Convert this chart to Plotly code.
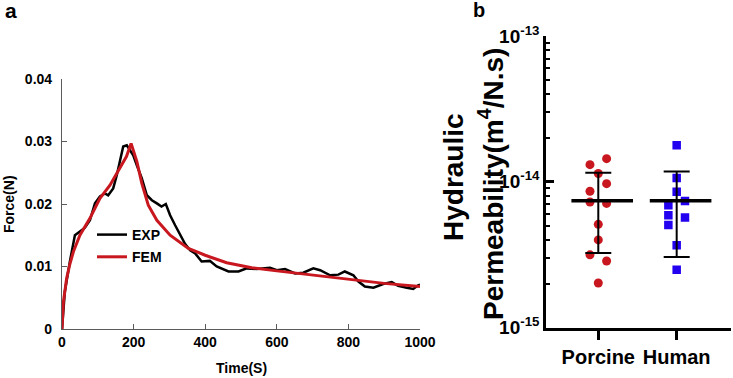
import plotly.graph_objects as go

# ---------------- Panel a data ----------------
exp_time = [0, 2, 8, 22, 36, 50, 64, 78, 92, 106, 120, 129, 143, 153, 162, 171, 181, 190,
            199, 209, 223, 237, 251, 265, 278, 290, 302, 316, 330, 344, 358, 372, 390,
            413, 432, 465, 493, 516, 544, 581, 600, 623, 651, 674, 702, 721, 749, 772,
            790, 814, 828, 846, 870, 897, 921, 939, 963, 981, 995, 1000]
exp_force = [0, 0.0012, 0.0060, 0.0108, 0.0150, 0.0156, 0.0162, 0.0174, 0.0201, 0.0212,
             0.0217, 0.0214, 0.0225, 0.0246, 0.0270, 0.0292, 0.0294, 0.0286,
             0.0278, 0.0262, 0.0241, 0.0214, 0.0206, 0.0201, 0.0196, 0.0200, 0.0182,
             0.0166, 0.0150, 0.0136, 0.0126, 0.0121, 0.0108,
             0.0109, 0.0100, 0.0092, 0.0092, 0.0097, 0.0096, 0.0098, 0.0094, 0.0096,
             0.0089, 0.0090, 0.0097, 0.0094, 0.0086, 0.0087,
             0.0092, 0.0086, 0.0076, 0.0068, 0.0066, 0.0072, 0.0075, 0.0069, 0.0066,
             0.0064, 0.0070, 0.0071]

fem_time = [0, 1, 4, 13, 22, 32, 50, 78, 106, 134, 162, 180, 193, 200, 209, 223, 241,
            265, 302, 353, 400, 460, 530, 600, 700, 800, 900, 1000]
fem_force = [0, 0.0022, 0.0044, 0.0081, 0.0104, 0.0124, 0.0150, 0.0177, 0.0209, 0.0230,
             0.0257, 0.0276, 0.0297, 0.0284, 0.0268, 0.0233, 0.0198,
             0.0174, 0.0150, 0.0129, 0.0118, 0.0106, 0.0098, 0.0093, 0.0086, 0.0079,
             0.0073, 0.0068]

# ---------------- Panel b data ----------------
categories = ["Porcine", "Human"]
porcine_vals = [1.31e-14, 1.44e-14, 1.14e-14, 9.7e-15, 8.6e-15, 7.26e-15, 7.1e-15,
                5.1e-15, 3.99e-15, 3.15e-15, 2.86e-15, 2.02e-15]
porcine_jitter = [-0.106, 0.106, 0, 0.106, -0.106, -0.106, 0.106, 0, 0, -0.106, 0.106, 0]
human_vals = [1.78e-14, 1.06e-14, 8.53e-15, 7.38e-15, 6.89e-15, 5.89e-15, 5.68e-15,
              5.05e-15, 3.67e-15, 2.49e-15]
human_jitter = [0, 0, 0, 0.106, -0.106, -0.106, 0.106, -0.106, 0, 0]
means = [7.4e-15, 7.4e-15]
sds = [4.15e-15, 4.35e-15]

ytick_vals_b = [1e-15, 1e-14, 1e-13]
ytick_text_b = ["10<sup>-15</sup>", "10<sup>-14</sup>", "10<sup>-13</sup>"]
yminor_vals_b = [m * 1e-15 for m in range(2, 10)] + [m * 1e-14 for m in range(2, 10)]

xtick_vals_a = [0, 200, 400, 600, 800, 1000]
ytick_vals_a = [0, 0.01, 0.02, 0.03, 0.04]
ytick_text_a = ["0", "0.01", "0.02", "0.03", "0.04"]

RED = "#c8171e"
BLUE = "#2200f0"
AX_A = "#5a5a5a"
FONT = "Liberation Sans"

fig = go.Figure()

fig.add_trace(go.Scatter(x=exp_time, y=exp_force, mode="lines", name="EXP",
                         line=dict(color="black", width=2.5), xaxis="x", yaxis="y",
                         legendgroup="g1"))
fig.add_trace(go.Scatter(x=fem_time, y=fem_force, mode="lines", name="FEM",
                         line=dict(color=RED, width=3), xaxis="x", yaxis="y",
                         legendgroup="g2"))

# panel b points
fig.add_trace(go.Scatter(x=[0 + j for j in porcine_jitter], y=porcine_vals, mode="markers",
                         marker=dict(symbol="circle", size=9, color=RED),
                         xaxis="x2", yaxis="y2", showlegend=False))
fig.add_trace(go.Scatter(x=[1 + j for j in human_jitter], y=human_vals, mode="markers",
                         marker=dict(symbol="square", size=8.5, color=BLUE),
                         xaxis="x2", yaxis="y2", showlegend=False))
# SD error bars
fig.add_trace(go.Scatter(x=[0, 1], y=means, mode="markers",
                         marker=dict(size=1, color="rgba(0,0,0,0)"),
                         error_y=dict(type="data", array=sds, symmetric=True,
                                      color="black", thickness=2, width=13),
                         xaxis="x2", yaxis="y2", showlegend=False))
# mean lines
fig.add_trace(go.Scatter(x=[0.05, 1.05], y=means, mode="markers",
                         marker=dict(symbol="line-ew", size=44,
                                     line=dict(color="black", width=3.5)),
                         xaxis="x2", yaxis="y2", showlegend=False))

W, H = 733, 378


def fx(px):
    return px / W


def fy(py):
    return 1 - py / H


fig.update_layout(
    width=W, height=H, autosize=False,
    margin=dict(l=0, r=0, t=0, b=0, pad=0),
    paper_bgcolor="white", plot_bgcolor="white",
    font=dict(family=FONT, color="black"),
    showlegend=True,
    legend=dict(x=fx(92), y=fy(219), xanchor="left", yanchor="top",
                bgcolor="rgba(0,0,0,0)",
                font=dict(size=14, family=FONT, color="black", weight="bold"),
                itemwidth=30, tracegroupgap=1, traceorder="grouped"),
    xaxis=dict(domain=[fx(62), fx(420)], range=[0, 1000], tickmode="array",
               tickvals=xtick_vals_a,
               ticks="inside", ticklen=5, tickwidth=1, tickcolor=AX_A,
               showline=True, linecolor=AX_A, linewidth=1.2, showgrid=False, zeroline=False,
               tickfont=dict(size=14, family=FONT, weight="bold", color="black"),
               anchor="y", automargin=False),
    yaxis=dict(domain=[fy(329), fy(79)], range=[0, 0.04], tickmode="array",
               tickvals=ytick_vals_a, ticktext=ytick_text_a,
               ticks="inside", ticklen=5, tickwidth=1, tickcolor=AX_A,
               showline=True, linecolor=AX_A, linewidth=1.2, showgrid=False, zeroline=False,
               tickfont=dict(size=14, family=FONT, weight="bold", color="black"),
               anchor="x", automargin=False, ticklabelstandoff=6),
    xaxis2=dict(domain=[fx(546), fx(731)], range=[-0.667, 1.693], tickmode="array",
                tickvals=[0, 1], ticktext=categories,
                ticks="outside", ticklen=10, tickwidth=2.5, tickcolor="black",
                showline=True, linecolor="black", linewidth=2.5, showgrid=False, zeroline=False,
                tickfont=dict(size=20, family=FONT, weight="bold", color="black"),
                anchor="y2", automargin=False),
    yaxis2=dict(domain=[fy(327.5), fy(36)], type="log", range=[-15, -13],
                tickmode="array", tickvals=ytick_vals_b, ticktext=ytick_text_b,
                ticks="inside", ticklen=8, tickwidth=2.5, tickcolor="black",
                minor=dict(tickmode="array", tickvals=yminor_vals_b, ticks="inside",
                           ticklen=4.5, tickwidth=2, tickcolor="black", showgrid=False),
                showline=True, linecolor="black", linewidth=2.5, showgrid=False, zeroline=False,
                tickfont=dict(size=19, family=FONT, weight="bold", color="black"),
                anchor="x2", automargin=False),
)

annotations = [
    dict(text="<b>a</b>", x=fx(3), y=fy(10), xanchor="left", yanchor="middle", font=dict(size=21)),
    dict(text="<b>b</b>", x=fx(471), y=fy(10), xanchor="left", yanchor="middle", font=dict(size=20)),
    dict(text="<b>Time(S)</b>", x=fx(241), y=fy(368), xanchor="center", yanchor="middle",
         font=dict(size=14)),
    dict(text="<b>Force(N)</b>", x=fx(9), y=fy(204), xanchor="center", yanchor="middle",
         textangle=-90, font=dict(size=14)),
    dict(text="<b>Hydraulic</b>", x=fx(453), y=fy(177), xanchor="center", yanchor="middle",
         textangle=-90, font=dict(size=28)),
    dict(text="<b>Permeability(m<sup>4</sup>/N.s)</b>", x=fx(491), y=fy(184), xanchor="center",
         yanchor="middle", textangle=-90, font=dict(size=28)),
]
for a in annotations:
    a.update(xref="paper", yref="paper", showarrow=False)
    a["font"]["family"] = FONT
    a["font"]["color"] = "black"
fig.update_layout(annotations=annotations)

# remove the default 8px page margin so the 733x378 figure fills the window exactly
fig.write_html("out.html", config={"displayModeBar": False},
               post_script="document.body.style.margin='0';")
